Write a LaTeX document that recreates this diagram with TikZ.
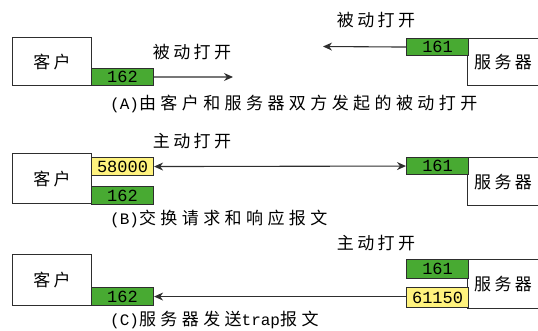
\documentclass[tikz,border=0pt]{standalone}
\usepackage{fontspec}
\newfontfamily\cjk[LetterSpace=20]{Noto Sans CJK SC}
\newfontfamily\cjkcap[LetterSpace=26]{Noto Sans CJK SC}
\newfontfamily\mono{Liberation Mono}
\usetikzlibrary{arrows.meta}
\definecolor{portgreen}{HTML}{48AA32}
\definecolor{portyellow}{HTML}{FFF37E}
\definecolor{linegray}{HTML}{2E2E2E}
\tikzset{
  hostbox/.style={draw=linegray, line width=1.1pt, fill=white, inner sep=0pt, anchor=north west, font=\cjk\fontsize{17}{17}\selectfont},
  gport/.style={draw=linegray, line width=1.1pt, fill=portgreen, inner sep=0pt, anchor=north west, minimum width=62pt, font=\mono\fontsize{17}{17}\selectfont},
  yport/.style={gport, fill=portyellow},
  lbl/.style={inner sep=0pt, font=\cjk\fontsize{17}{17}\selectfont},
  captext/.style={inner sep=0pt, anchor=west, font=\cjkcap\fontsize{17}{17}\selectfont},
  conn/.style={draw=linegray, line width=1.1pt, -{Stealth[length=9pt,width=8pt]}},
}
\begin{document}
\begin{tikzpicture}[x=1pt,y=-1pt]
\useasboundingbox (0,0) rectangle (538,331);
% ---------- Panel A ----------
\node[hostbox, minimum width=79pt, minimum height=48pt] (cA) at (12,37) {客户};
\node[gport, minimum height=17pt] (pA162) at (91,68) {162};
\coordinate (eA1) at (233,77);
\draw[conn] (pA162.east) -- (eA1);
\node[lbl] (lA1) at (192,52) {被动打开};
\node[hostbox, minimum width=71pt, minimum height=47pt] (sA) at (467,38) {服务器};
\node[gport, minimum height=17pt] (pA161) at (406,38) {161};
\coordinate (eA2) at (323,46.5);
\draw[conn] (pA161.west) -- (eA2);
\node[lbl] (lA2) at (376,20) {被动打开};
\node[captext] (capA) at (110,104) {{\mono\fontsize{16}{16}\selectfont (A)}由客户和服务器双方发起的被动打开};
% ---------- Panel B ----------
\node[hostbox, minimum width=79pt, minimum height=50pt] (cB) at (12,153) {客户};
\node[yport, minimum height=18pt] (pB58) at (91,157) {58000};
\node[gport, minimum height=18pt] (pB162) at (91,186) {162};
\node[hostbox, minimum width=71pt, minimum height=48pt] (sB) at (467,157) {服务器};
\node[gport, minimum height=17pt] (pB161) at (406,157) {161};
\draw[conn, {Stealth[length=9pt,width=8pt]}-{Stealth[length=9pt,width=8pt]}] (pB58.east) -- (pB161.west);
\node[lbl] (lB) at (192,141) {主动打开};
\node[captext] (capB) at (110,219) {{\mono\fontsize{16}{16}\selectfont (B)}交换请求和响应报文};
% ---------- Panel C ----------
\node[hostbox, minimum width=79pt, minimum height=51pt] (cC) at (12,254) {客户};
\node[gport, minimum height=18pt] (pC162) at (91,287) {162};
\node[hostbox, minimum width=71pt, minimum height=49pt] (sC) at (467,259) {服务器};
\node[gport, minimum height=19pt] (pC161) at (406,259) {161};
\node[yport, minimum height=20pt] (pC611) at (406,287) {61150};
\draw[conn] (pC611.west |- pC162.east) -- (pC162.east);
\node[lbl] (lC) at (376,243) {主动打开};
\node[captext] (capC) at (110,320) {{\mono\fontsize{16}{16}\selectfont (C)}服务器发送{\mono\fontsize{16}{16}\selectfont trap}报文};
\end{tikzpicture}
\end{document}
